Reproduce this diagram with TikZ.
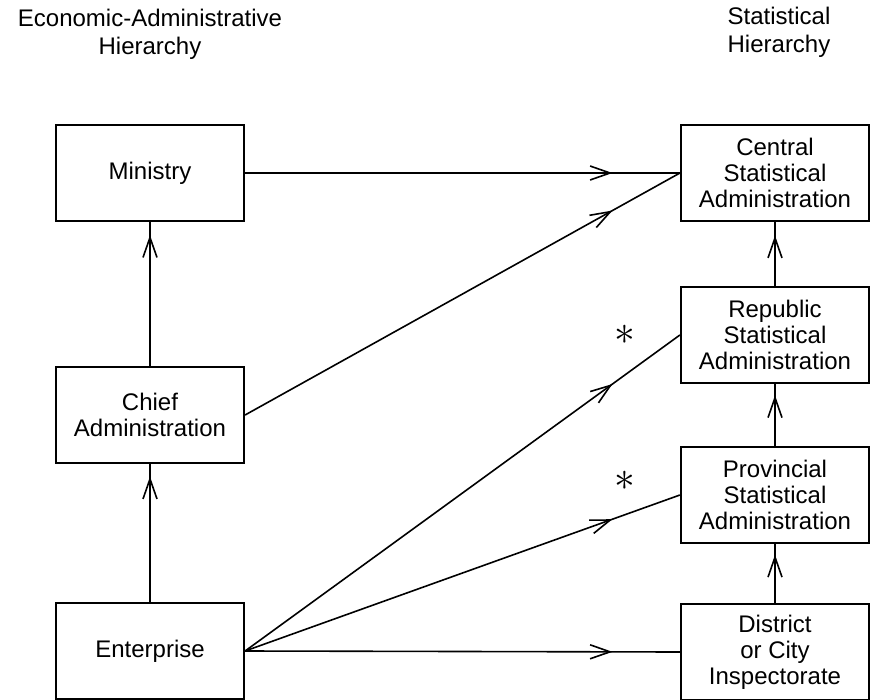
\documentclass[tikz,border=0pt]{standalone}
\usepackage{fontspec}
\setmainfont{Liberation Sans}
\usetikzlibrary{arrows.meta,positioning,decorations.markings}

\tikzset{
  unit/.style={draw, line width=1.1pt, minimum width=94pt, minimum height=48pt,
    align=center, font=\fontsize{12}{13}\selectfont},
  heading/.style={align=center, font=\fontsize{12}{14}\selectfont},
  report/.style={line width=0.8pt, postaction={decorate},
    decoration={markings, mark=at position #1 with {\arrow{Straight Barb[length=10pt,width=7pt]}}}},
  note/.style={inner sep=0pt, font=\huge}
}

\begin{document}
\begin{tikzpicture}[node distance=120pt]
  \useasboundingbox (0,0) rectangle (436pt,-350pt);

  % economic-administrative side
  \node[unit] (min) at (75pt,-86.5pt) {Ministry};
  \node[unit] (chief) [below of=min, node distance=121pt] {Chief\\Administration};
  \node[unit] (ent) [below of=chief, node distance=118pt] {Enterprise};

  % statistical side
  \node[unit] (csa) [right of=min, node distance=312.5pt] {Central\\Statistical\\Administration};
  \node[unit] (rsa) [below of=csa, node distance=81pt] {Republic\\Statistical\\Administration};
  \node[unit] (psa) [below of=rsa, node distance=80pt] {Provincial\\Statistical\\Administration};
  \node[unit] (dci) [below of=psa, node distance=78.5pt] {District\\or City\\Inspectorate};

  \node[heading] (econ) [above of=min, node distance=69.5pt] {Economic-Administrative\\Hierarchy};
  \node[heading] (stat) [above of=csa, node distance=70.5pt, xshift=2pt] {Statistical\\Hierarchy};

  \node[note] (astr) [left=22pt of rsa.west] {$\ast$};
  \node[note] (astp) [left=22pt of psa.west, yshift=7pt] {$\ast$};

  \path
    (chief.north) edge[report=0.91] (min.south)
    (ent.north) edge[report=0.91] (chief.south)
    (rsa.north) edge[report=0.79] (csa.south)
    (psa.north) edge[report=0.82] (rsa.south)
    (dci.north) edge[report=0.82] (psa.south)

    (min.east) edge[report=0.845] (csa.west)
    (chief.east) edge[report=0.845] (csa.west)
    (ent.east) edge[report=0.845] (rsa.west)
    (ent.east) edge[report=0.845] (psa.west)
    (ent.east) edge[report=0.845] (dci.west)
    ;
\end{tikzpicture}
\end{document}
